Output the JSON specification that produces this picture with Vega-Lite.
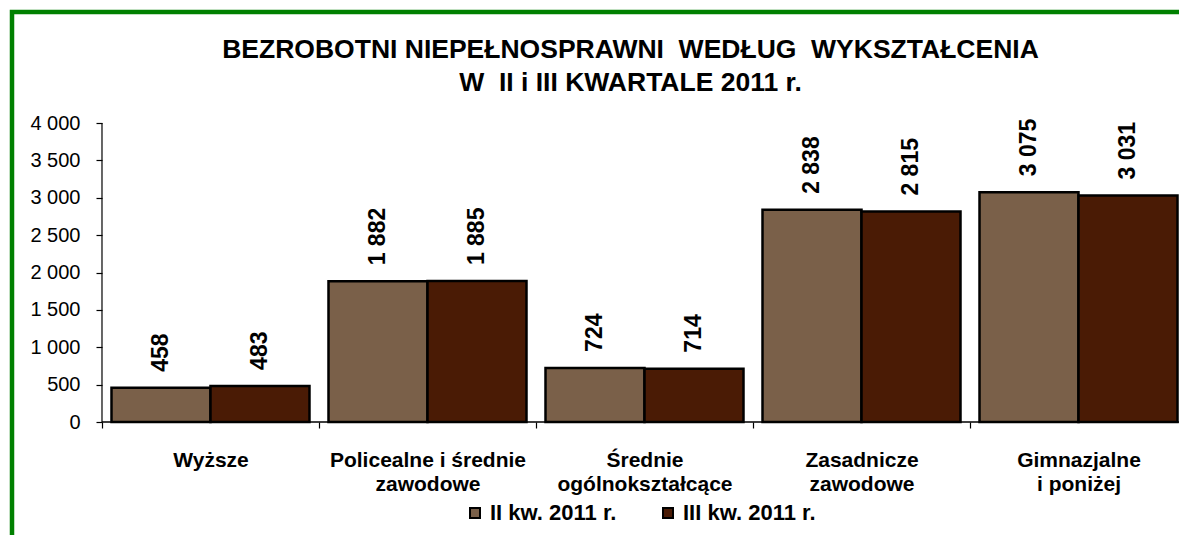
{
  "$schema": "https://vega.github.io/schema/vega-lite/v6.json",
  "width": 1265,
  "height": 540,
  "autosize": {"type": "none"},
  "padding": {"left": 12, "top": 12, "right": 0, "bottom": 0},
  "background": "white",
  "title": {
    "text": ["BEZROBOTNI NIEPEŁNOSPRAWNI \u00a0WEDŁUG \u00a0WYKSZTAŁCENIA", "W \u00a0II i III KWARTALE 2011 r."],
    "anchor": "middle",
    "frame": "group",
    "offset": -84,
    "dx": -14,
    "fontSize": 26.5,
    "fontWeight": "bold",
    "lineHeight": 33,
    "color": "black"
  },
  "data": {
    "values": [
      {"kat": "Wyższe", "okres": "II kw. 2011 r.", "liczba": 458},
      {"kat": "Wyższe", "okres": "III kw. 2011 r.", "liczba": 483},
      {"kat": "Policealne i średnie zawodowe", "okres": "II kw. 2011 r.", "liczba": 1882},
      {"kat": "Policealne i średnie zawodowe", "okres": "III kw. 2011 r.", "liczba": 1885},
      {"kat": "Średnie ogólnokształcące", "okres": "II kw. 2011 r.", "liczba": 724},
      {"kat": "Średnie ogólnokształcące", "okres": "III kw. 2011 r.", "liczba": 714},
      {"kat": "Zasadnicze zawodowe", "okres": "II kw. 2011 r.", "liczba": 2838},
      {"kat": "Zasadnicze zawodowe", "okres": "III kw. 2011 r.", "liczba": 2815},
      {"kat": "Gimnazjalne i poniżej", "okres": "II kw. 2011 r.", "liczba": 3075},
      {"kat": "Gimnazjalne i poniżej", "okres": "III kw. 2011 r.", "liczba": 3031}
    ]
  },
  "encoding": {
    "x": {
      "field": "kat",
      "type": "nominal",
      "sort": null,
      "scale": {"paddingInner": 0, "paddingOuter": 0.4147},
      "axis": {
        "title": null,
        "orient": "bottom",
        "offset": -130,
        "domain": false,
        "tickBand": "extent",
        "tickSize": 6,
        "tickColor": "black",
        "tickWidth": 1.2,
        "labelAngle": 0,
        "labelAlign": "center",
        "labelBaseline": "top",
        "labelPadding": 21,
        "labelFontSize": 21,
        "labelFontWeight": "bold",
        "labelColor": "black",
        "labelLineHeight": 24,
        "labelLimit": 400,
        "labelOverlap": false,
        "labelBound": false,
        "labelExpr": "datum.value == 'Policealne i średnie zawodowe' ? ['Policealne i średnie', 'zawodowe'] : datum.value == 'Średnie ogólnokształcące' ? ['Średnie', 'ogólnokształcące'] : datum.value == 'Zasadnicze zawodowe' ? ['Zasadnicze', 'zawodowe'] : datum.value == 'Gimnazjalne i poniżej' ? ['Gimnazjalne', 'i poniżej'] : datum.value"
      }
    }
  },
  "layer": [
    {
      "mark": {"type": "bar", "stroke": "black", "strokeWidth": 2.5},
      "encoding": {
        "xOffset": {
          "field": "okres",
          "type": "nominal",
          "sort": ["II kw. 2011 r.", "III kw. 2011 r."],
          "scale": {"paddingInner": 0, "paddingOuter": 0.096}
        },
        "y": {
          "field": "liczba",
          "type": "quantitative",
          "scale": {"domain": [-1739, 5485], "nice": false, "zero": false},
          "axis": {
            "title": null,
            "offset": -90,
            "domain": false,
            "grid": false,
            "values": [0, 500, 1000, 1500, 2000, 2500, 3000, 3500, 4000],
            "format": ",d",
            "tickSize": 6,
            "tickColor": "black",
            "tickWidth": 1.2,
            "labelPadding": 16,
            "labelFontSize": 20,
            "labelColor": "black"
          }
        },
        "y2": {"datum": 0},
        "color": {
          "field": "okres",
          "type": "nominal",
          "sort": ["II kw. 2011 r.", "III kw. 2011 r."],
          "scale": {"domain": ["II kw. 2011 r.", "III kw. 2011 r."], "range": ["#7A6049", "#4A1B05"]},
          "legend": {
            "title": null,
            "orient": "none",
            "direction": "horizontal",
            "legendX": 452,
            "legendY": 490,
            "padding": 0,
            "symbolType": "square",
            "symbolSize": 100,
            "symbolStrokeColor": "black",
            "symbolStrokeWidth": 2,
            "symbolOpacity": 1,
            "labelFontSize": 22,
            "labelFontWeight": "bold",
            "labelColor": "black",
            "labelOffset": 4,
            "columnPadding": 40,
            "labelLimit": 400
          }
        }
      }
    },
    {
      "mark": {"type": "text", "angle": 270, "align": "left", "baseline": "middle", "dx": 16, "fontSize": 23, "fontWeight": "bold", "color": "black"},
      "encoding": {
        "xOffset": {
          "field": "okres",
          "type": "nominal",
          "sort": ["II kw. 2011 r.", "III kw. 2011 r."],
          "scale": {"paddingInner": 0, "paddingOuter": 0.096}
        },
        "y": {"field": "liczba", "type": "quantitative"},
        "text": {"field": "liczba", "type": "quantitative", "format": ",d"}
      }
    },
    {
      "mark": {"type": "bar", "fill": null, "fillOpacity": 0, "stroke": "black", "strokeWidth": 1.2},
      "encoding": {
        "y": {"datum": 0, "type": "quantitative"},
        "y2": {"datum": 0}
      }
    },
    {
      "transform": [{"filter": "datum.kat == 'Wyższe' && datum.okres == 'II kw. 2011 r.'"}],
      "mark": {"type": "rule", "color": "black", "strokeWidth": 1.2},
      "encoding": {
        "x": {"field": "kat", "type": "nominal", "sort": null, "bandPosition": 0},
        "y": {"datum": 0, "type": "quantitative"},
        "y2": {"datum": 4000}
      }
    }
  ],
  "config": {
    "font": "Liberation Sans",
    "view": {"stroke": "#008000", "strokeWidth": 4.5},
    "locale": {
      "number": {"decimal": ",", "thousands": " ", "grouping": [3], "currency": ["", " zł"]}
    }
  }
}
